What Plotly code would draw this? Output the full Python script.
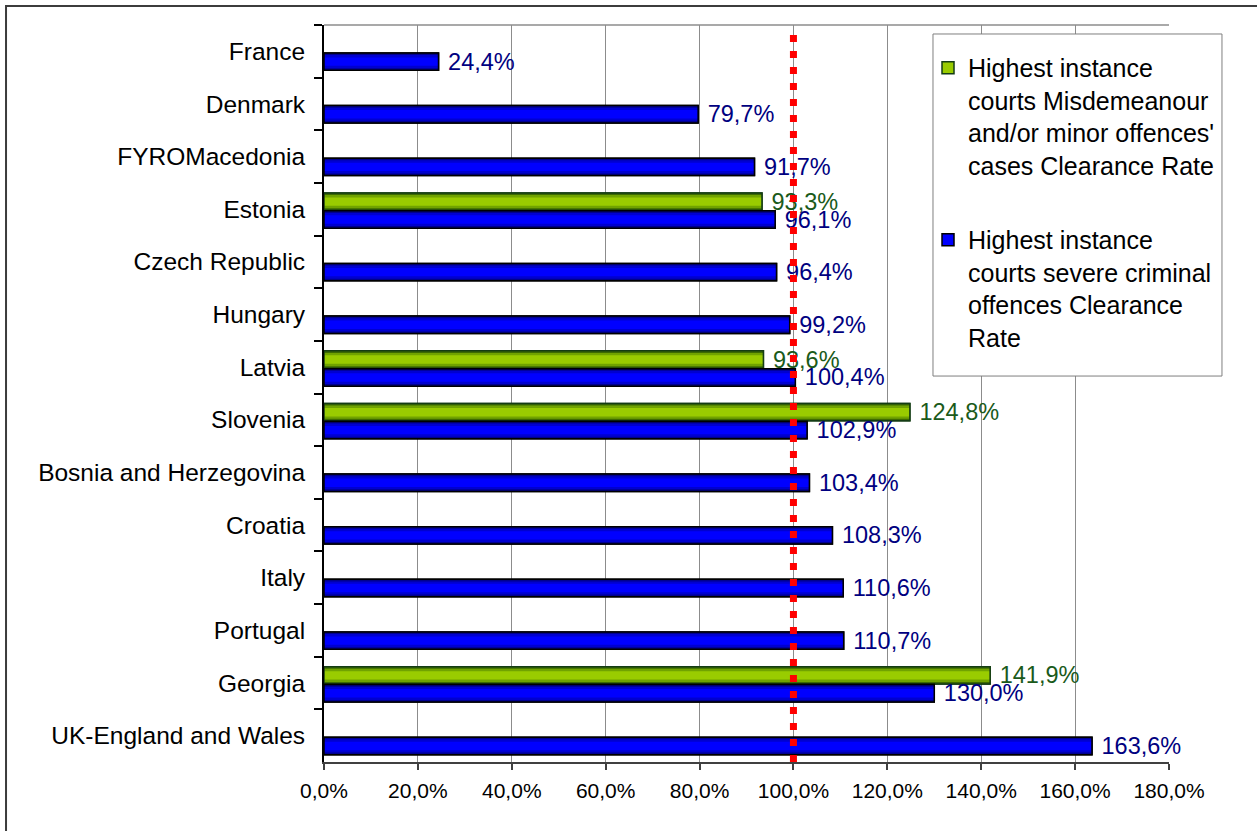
import plotly.graph_objects as go

# Countries, top to bottom
countries = [
    "France", "Denmark", "FYROMacedonia", "Estonia", "Czech Republic",
    "Hungary", "Latvia", "Slovenia", "Bosnia and Herzegovina", "Croatia",
    "Italy", "Portugal", "Georgia", "UK-England and Wales",
]

# Clearance rates (%) of highest instance courts
severe_criminal_rate = [24.4, 79.7, 91.7, 96.1, 96.4, 99.2, 100.4, 102.9,
                        103.4, 108.3, 110.6, 110.7, 130.0, 163.6]
minor_offences_rate = [None, None, None, 93.3, None, None, 93.6, 124.8,
                       None, None, None, None, 141.9, None]

x_ticks = [0, 20, 40, 60, 80, 100, 120, 140, 160, 180]
x_tick_labels = ["0,0%", "20,0%", "40,0%", "60,0%", "80,0%", "100,0%",
                 "120,0%", "140,0%", "160,0%", "180,0%"]

reference_rate = 100

minor_name = ("Highest instance<br>courts Misdemeanour<br>"
              "and/or minor offences'<br>cases Clearance Rate")
severe_name = ("Highest instance<br>courts severe criminal<br>"
               "offences Clearance<br>Rate")

FONT = "Liberation Sans, Arial, sans-serif"
BAR_W = 0.33


def pct(v):
    return "" if v is None else f"{v:.1f}%".replace(".", ",")


fig = go.Figure()


def add_series(name, values, offset, shades, edge, text_color):
    dark, mid, bright = shades
    common = dict(x=values, y=countries, orientation="h", hoverinfo="skip",
                  legendgroup=name)
    # legend entry / base bar
    fig.add_trace(go.Bar(name=name, marker=dict(color=bright, line=dict(color=edge, width=1.5)),
                         width=BAR_W, offset=offset, showlegend=True, **common))
    # shaded layers giving the bar a cylinder-like gradient
    for color, inset in ((dark, 0.0), (mid, 0.04), (bright, 0.085)):
        fig.add_trace(go.Bar(marker=dict(color=color, line=dict(width=0)),
                             width=BAR_W - 2 * inset, offset=offset + inset,
                             showlegend=False, **common))
    # outline with value labels
    fig.add_trace(go.Bar(marker=dict(color="rgba(0,0,0,0)", line=dict(color=edge, width=1.5)),
                         width=BAR_W, offset=offset,
                         text=[pct(v) for v in values], texttemplate="\u00a0%{text}",
                         textposition="outside", constraintext="none", cliponaxis=False,
                         textfont=dict(color=text_color, size=23.5, family=FONT),
                         showlegend=False, **common))


add_series(minor_name, minor_offences_rate, -0.31,
           ("#3d6b00", "#70a300", "#99cc00"), "#143c14", "#1a5a1a")
add_series(severe_name, severe_criminal_rate, 0.03,
           ("#00008f", "#0000d0", "#0000ff"), "#000000", "#000080")

# 100% reference line
fig.add_shape(type="line", xref="x", yref="paper", x0=reference_rate, x1=reference_rate,
              y0=0, y1=0.993, layer="above",
              line=dict(color="#ff0000", width=7, dash="7px,9px"))

# plot area top edge
fig.add_shape(type="line", xref="paper", yref="paper", x0=0, x1=1, y0=1, y1=1,
              line=dict(color="#8c8c8c", width=1.5), layer="below")

# chart frame
fig.add_shape(type="rect", xref="paper", yref="paper",
              x0=-0.3763, x1=1.2, y0=-0.2, y1=1.0258,
              line=dict(color="#3c3c3c", width=2), layer="below")

# legend frame
fig.add_shape(type="rect", xref="paper", yref="paper",
              x0=0.7207, x1=1.0627, y0=0.5237, y1=0.9878,
              fillcolor="white", line=dict(color="#7f7f7f", width=1), layer="above")

fig.update_layout(
    width=1257, height=831,
    margin=dict(l=324, r=88, t=25, b=69),
    paper_bgcolor="white", plot_bgcolor="white",
    barmode="overlay",
    font=dict(family=FONT, color="black"),
    showlegend=True,
    legend=dict(x=0.7148, y=0.9729, xanchor="left", yanchor="top",
                bgcolor="rgba(0,0,0,0)", borderwidth=0,
                font=dict(size=25, color="black", family=FONT),
                valign="top", traceorder="grouped", tracegroupgap=39,
                itemwidth=30),
    xaxis=dict(range=[0, 180], tickvals=x_ticks, ticktext=x_tick_labels,
               showgrid=True, gridcolor="#8c8c8c", gridwidth=1,
               ticks="outside", ticklen=6, tickcolor="#404040", tickwidth=1.5,
               showline=True, linecolor="#404040", linewidth=2,
               zeroline=False, tickfont=dict(size=21, color="black", family=FONT),
               ticklabelstandoff=3, fixedrange=True),
    yaxis=dict(type="category", categoryorder="array", categoryarray=countries,
               range=[len(countries) - 0.5, -0.5],
               ticks="outside", tickson="boundaries", ticklen=8,
               tickcolor="black", tickwidth=1.5,
               showline=True, linecolor="black", linewidth=2,
               showgrid=False, zeroline=False,
               tickfont=dict(size=24.5, color="black", family=FONT),
               ticklabelstandoff=12, fixedrange=True),
)

fig.write_html("out.html")
